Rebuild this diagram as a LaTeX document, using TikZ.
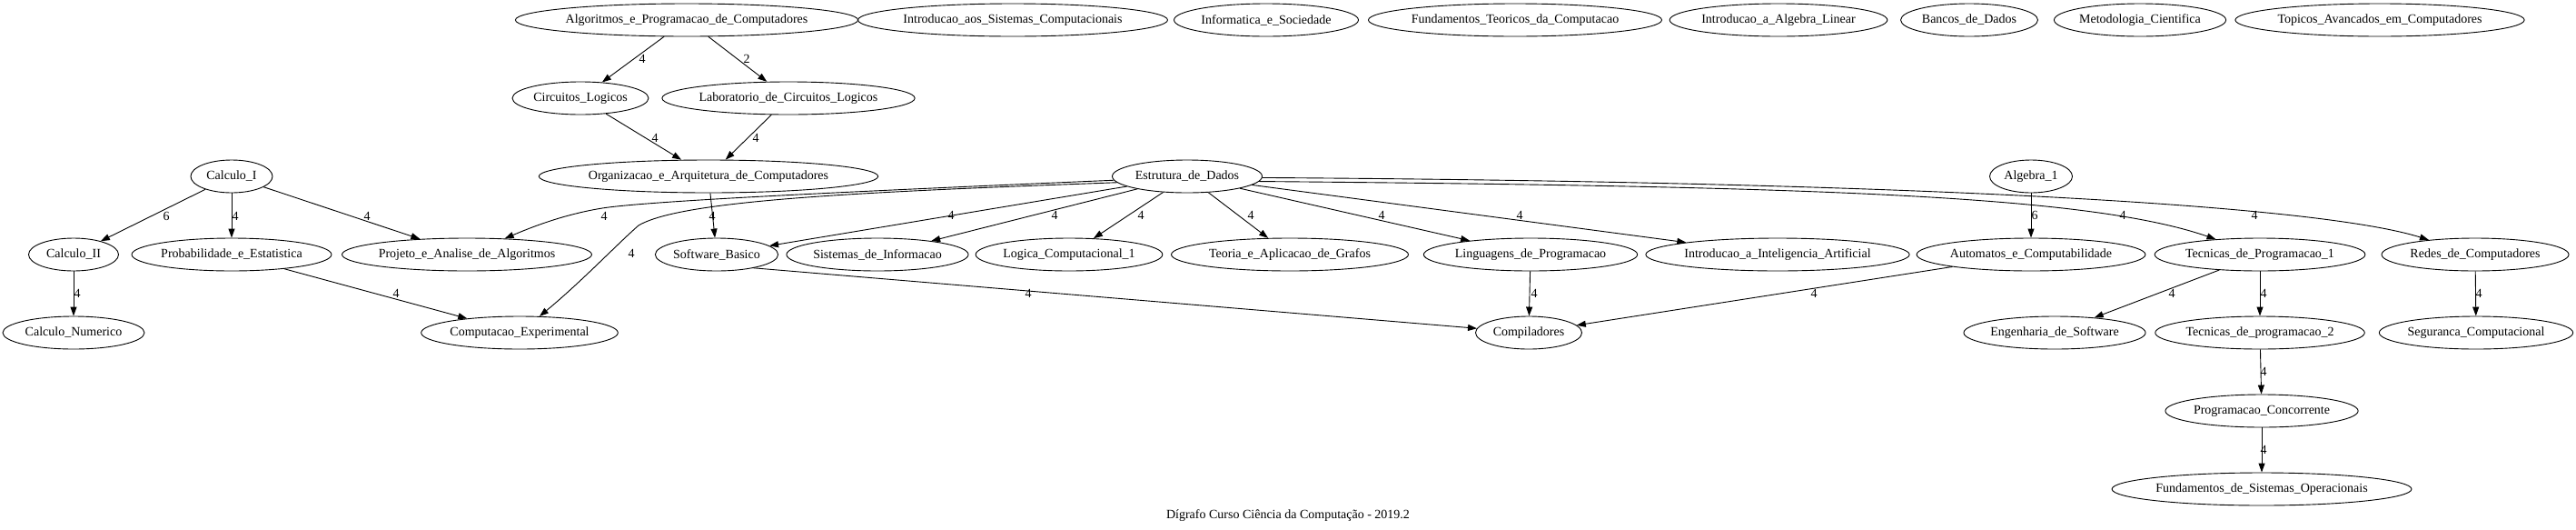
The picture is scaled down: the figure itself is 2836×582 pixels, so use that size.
\documentclass[tikz,border=0pt]{standalone}
\usepackage{fontspec}
\setmainfont{Liberation Serif}
\usetikzlibrary{shapes.geometric,arrows.meta}
\tikzset{
  nd/.style={draw, ellipse, inner sep=0pt, minimum height=36pt, line width=0.9pt, font=\fontsize{14}{16}\selectfont},
  edge/.style={draw, line width=0.9pt, -{Triangle[length=10pt,width=7pt]}},
  lbl/.style={font=\fontsize{14}{16}\selectfont, inner sep=0pt},
  ttl/.style={font=\fontsize{14}{16}\selectfont, inner sep=0pt}
}
\begin{document}
\begin{tikzpicture}[x=1pt,y=-1pt]
\useasboundingbox (0,0) rectangle (2836,582);
% row 1
\node[nd, minimum width=364pt] (alg) at (756,22) {Algoritmos\_e\_Programacao\_de\_Computadores};
\node[nd, minimum width=324pt] (isc) at (1115,22) {Introducao\_aos\_Sistemas\_Computacionais};
\node[nd, minimum width=203pt] (ies) at (1394,22) {Informatica\_e\_Sociedade};
\node[nd, minimum width=309pt] (ftc) at (1668,22) {Fundamentos\_Teoricos\_da\_Computacao};
\node[nd, minimum width=234pt] (ial) at (1958,22) {Introducao\_a\_Algebra\_Linear};
\node[nd, minimum width=151pt] (bd) at (2168,22) {Bancos\_de\_Dados};
\node[nd, minimum width=188pt] (mc) at (2356,22) {Metodologia\_Cientifica};
\node[nd, minimum width=302pt] (tac) at (2620,22) {Topicos\_Avancados\_em\_Computadores};
% row 2
\node[nd, minimum width=150pt] (cl) at (639,108) {Circuitos\_Logicos};
\node[nd, minimum width=270pt] (lcl) at (868,108) {Laboratorio\_de\_Circuitos\_Logicos};
% row 3
\node[nd, minimum width=90pt] (c1) at (255,194) {Calculo\_I};
\node[nd, minimum width=354pt] (oac) at (780,194) {Organizacao\_e\_Arquitetura\_de\_Computadores};
\node[nd, minimum width=165pt] (ed) at (1307,194) {Estrutura\_de\_Dados};
\node[nd, minimum width=91pt] (a1) at (2236,194) {Algebra\_1};
% row 4
\node[nd, minimum width=99pt] (c2) at (81,280) {Calculo\_II};
\node[nd, minimum width=217pt] (pe) at (255,280) {Probabilidade\_e\_Estatistica};
\node[nd, minimum width=268pt] (paa) at (514,280) {Projeto\_e\_Analise\_de\_Algoritmos};
\node[nd, minimum width=131pt] (sb) at (789,280) {Software\_Basico};
\node[nd, minimum width=198pt] (si) at (966,280) {Sistemas\_de\_Informacao};
\node[nd, minimum width=185pt] (lc1) at (1177,280) {Logica\_Computacional\_1};
\node[nd, minimum width=261pt] (tag) at (1420,280) {Teoria\_e\_Aplicacao\_de\_Grafos};
\node[nd, minimum width=233pt] (lp) at (1685,280) {Linguagens\_de\_Programacao};
\node[nd, minimum width=276pt] (iia) at (1957,280) {Introducao\_a\_Inteligencia\_Artificial};
\node[nd, minimum width=245pt] (aec) at (2236,280) {Automatos\_e\_Computabilidade};
\node[nd, minimum width=226pt] (tp1) at (2488,280) {Tecnicas\_de\_Programacao\_1};
\node[nd, minimum width=206pt] (rc) at (2725,280) {Redes\_de\_Computadores};
% row 5
\node[nd, minimum width=156pt] (cn) at (81,366) {Calculo\_Numerico};
\node[nd, minimum width=213pt] (ce) at (572,366) {Computacao\_Experimental};
\node[nd, minimum width=117pt] (comp) at (1683,366) {Compiladores};
\node[nd, minimum width=197pt] (es) at (2262,366) {Engenharia\_de\_Software};
\node[nd, minimum width=221pt] (tp2) at (2488,366) {Tecnicas\_de\_programacao\_2};
\node[nd, minimum width=211pt] (sc) at (2726,366) {Seguranca\_Computacional};
% row 6, 7
\node[nd, minimum width=210pt] (pc) at (2490,452) {Programacao\_Concorrente};
\node[nd, minimum width=318pt] (fso) at (2490,538) {Fundamentos\_de\_Sistemas\_Operacionais};
% title
\node[ttl] (title) at (1418,567) {Dígrafo Curso Ciência da Computação - 2019.2};

% edges
\draw[edge] (alg) -- (cl);   \node[lbl] (l01) at (707,65) {4};
\draw[edge] (alg) -- (lcl);  \node[lbl] (l02) at (822,65) {2};
\draw[edge] (cl) -- (oac);   \node[lbl] (l03) at (721,152) {4};
\draw[edge] (lcl) -- (oac);  \node[lbl] (l04) at (832,152) {4};
\draw[edge] (c1) -- (c2);    \node[lbl] (l05) at (183,238) {6};
\draw[edge] (c1) -- (pe);    \node[lbl] (l06) at (259,238) {4};
\draw[edge] (c1) -- (paa);   \node[lbl] (l07) at (404,238) {4};
\draw[edge] (ed.183) .. controls (1000,208) and (720,220) .. (663,229) .. controls (620,236) and (585,250) .. (paa); \node[lbl] (l08) at (665,238) {4};
\draw[edge] (ed.185) .. controls (950,211) and (750,220) .. (703,248) .. controls (680,268) and (640,310) .. (ce);  \node[lbl] (l09) at (695,279) {4};
\draw[edge] (oac) -- (sb);   \node[lbl] (l10) at (784,238) {4};
\draw[edge] (ed) -- (sb);    \node[lbl] (l11) at (1047,237) {4};
\draw[edge] (ed) -- (si);    \node[lbl] (l12) at (1161,237) {4};
\draw[edge] (ed) -- (lc1);   \node[lbl] (l13) at (1256,237) {4};
\draw[edge] (ed) -- (tag);   \node[lbl] (l14) at (1377,237) {4};
\draw[edge] (ed) -- (lp);    \node[lbl] (l15) at (1521,237) {4};
\draw[edge] (ed) -- (iia);   \node[lbl] (l16) at (1673,237) {4};
\draw[edge] (a1) -- (aec);   \node[lbl] (l17) at (2240,237) {6};
\draw[edge] (ed.-4) .. controls (2000,205) and (2300,215) .. (tp1); \node[lbl] (l18) at (2337,237) {4};
\draw[edge] (ed.-1) .. controls (2100,200) and (2550,225) .. (rc);  \node[lbl] (l19) at (2482,237) {4};
\draw[edge] (c2) -- (cn);    \node[lbl] (l20) at (85,323) {4};
\draw[edge] (pe) -- (ce);    \node[lbl] (l21) at (436,323) {4};
\draw[edge] (sb.-20) -- (comp); \node[lbl] (l22) at (1132,323) {4};
\draw[edge] (lp) -- (comp);  \node[lbl] (l23) at (1689,323) {4};
\draw[edge] (aec) -- (comp); \node[lbl] (l24) at (1997,323) {4};
\draw[edge] (tp1) -- (es);   \node[lbl] (l25) at (2391,323) {4};
\draw[edge] (tp1) -- (tp2);  \node[lbl] (l26) at (2492,323) {4};
\draw[edge] (rc) -- (sc);    \node[lbl] (l27) at (2729,323) {4};
\draw[edge] (tp2) -- (pc);   \node[lbl] (l28) at (2492,409) {4};
\draw[edge] (pc) -- (fso);   \node[lbl] (l29) at (2492,495) {4};
\end{tikzpicture}
\end{document}
